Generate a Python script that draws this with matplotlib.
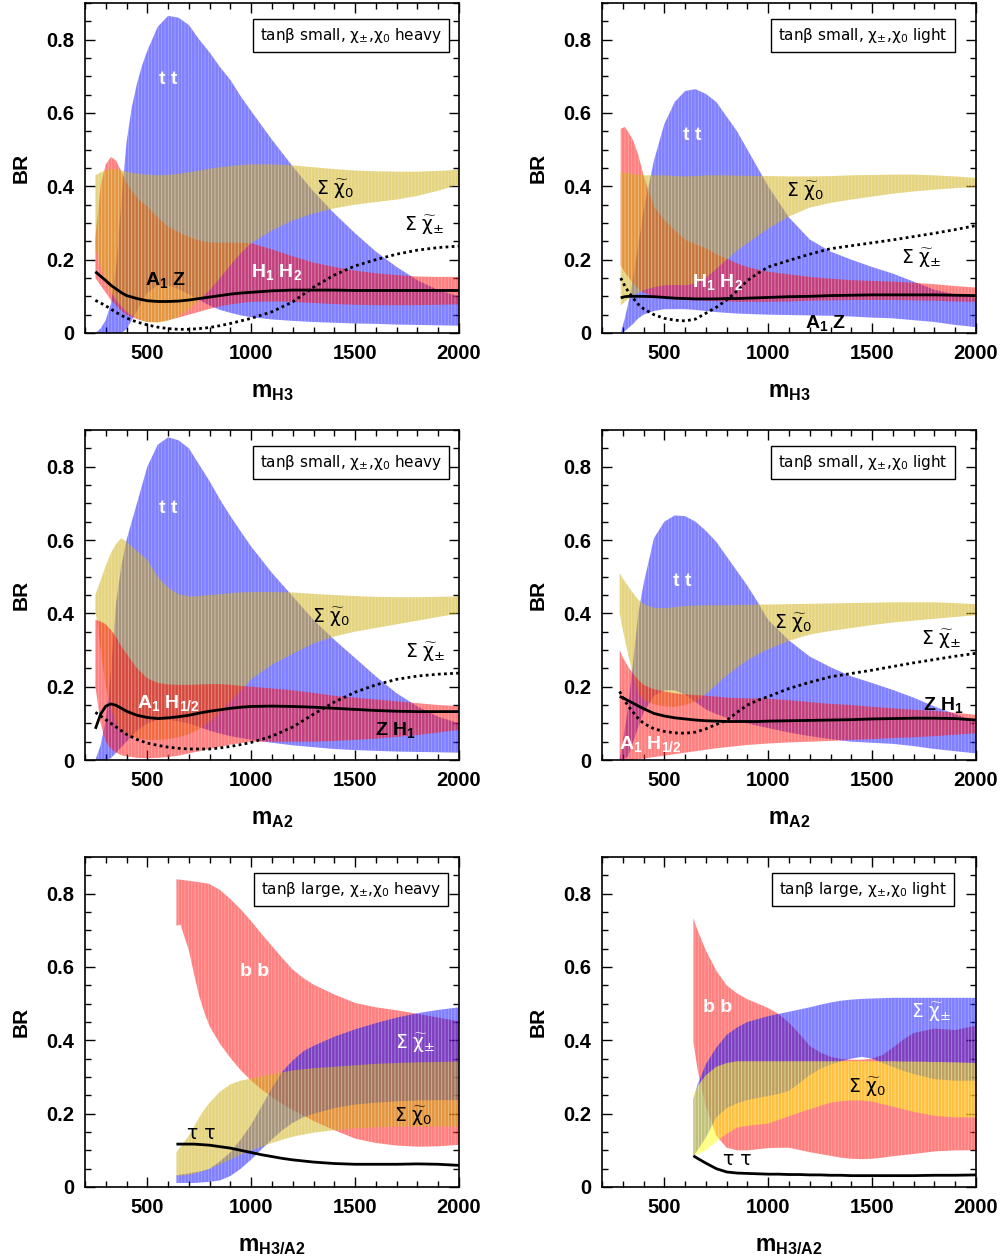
import numpy as np
import matplotlib
matplotlib.use('Agg')
import matplotlib.pyplot as plt
from matplotlib.ticker import MultipleLocator

plt.rcParams['font.family'] = ['Liberation Sans', 'DejaVu Sans']
plt.rcParams['mathtext.fontset'] = 'custom'
plt.rcParams['mathtext.rm'] = 'Liberation Sans'
plt.rcParams['mathtext.bf'] = 'Liberation Sans:bold'
plt.rcParams['mathtext.it'] = 'Liberation Sans:italic'
plt.rcParams['hatch.linewidth'] = 0.6

# ---------------- Panel 1 : m_H3, tanb small, heavy ----------------
p1_x = [250, 275, 300, 325, 350, 375, 400, 425, 450, 475, 500, 550, 600, 650, 700, 750, 800, 850, 900, 950,
        1000, 1100, 1200, 1300, 1400, 1500, 1600, 1700, 1800, 1900, 2000]
p1_tt_hi = [0.0, 0.012, 0.035, 0.08, 0.18, 0.36, 0.52, 0.615, 0.68, 0.73, 0.77, 0.835, 0.865, 0.86, 0.84, 0.80,
            0.765, 0.725, 0.69, 0.645, 0.605, 0.527, 0.454, 0.386, 0.326, 0.272, 0.222, 0.18, 0.144, 0.117, 0.10]
p1_tt_lo = [0.0, 0.0, 0.0, 0.0, 0.0, 0.0, 0.01, 0.035, 0.06, 0.088, 0.11, 0.13, 0.13, 0.12, 0.105, 0.09,
            0.075, 0.063, 0.055, 0.048, 0.043, 0.037, 0.033, 0.03, 0.028, 0.026, 0.025, 0.023, 0.022, 0.021, 0.02]
p1_hh_hi = [0.26, 0.40, 0.46, 0.48, 0.47, 0.44, 0.41, 0.388, 0.37, 0.356, 0.345, 0.315, 0.29, 0.275, 0.262,
            0.252, 0.247, 0.246, 0.246, 0.246, 0.245, 0.228, 0.209, 0.192, 0.18, 0.17, 0.163, 0.158, 0.154,
            0.153, 0.153]
p1_hh_lo = [0.15, 0.13, 0.11, 0.09, 0.075, 0.06, 0.05, 0.044, 0.038, 0.034, 0.03, 0.03, 0.035, 0.042, 0.05,
            0.058, 0.066, 0.073, 0.078, 0.082, 0.085, 0.086, 0.085, 0.082, 0.079, 0.077, 0.076, 0.076, 0.076,
            0.077, 0.078]
p1_c0_hi = [0.43, 0.438, 0.444, 0.447, 0.447, 0.444, 0.44, 0.437, 0.435, 0.433, 0.432, 0.43, 0.431, 0.434,
            0.438, 0.443, 0.448, 0.452, 0.455, 0.458, 0.46, 0.46, 0.457, 0.452, 0.447, 0.443, 0.441, 0.44, 0.44,
            0.442, 0.445]
p1_c0_lo = [0.23, 0.18, 0.14, 0.11, 0.09, 0.072, 0.058, 0.048, 0.04, 0.034, 0.03, 0.028, 0.033, 0.045, 0.065,
            0.09, 0.117, 0.15, 0.185, 0.218, 0.245, 0.28, 0.307, 0.326, 0.34, 0.35, 0.357, 0.364, 0.374, 0.388,
            0.405]
p1_a1z = [0.167, 0.155, 0.143, 0.13, 0.12, 0.11, 0.102, 0.098, 0.094, 0.091, 0.088, 0.086, 0.086, 0.087, 0.09,
          0.094, 0.098, 0.102, 0.106, 0.109, 0.111, 0.115, 0.117, 0.117, 0.117, 0.116, 0.116, 0.116, 0.116,
          0.116, 0.116]
p1_cpm = [0.089, 0.082, 0.074, 0.065, 0.056, 0.048, 0.041, 0.035, 0.03, 0.026, 0.022, 0.016, 0.012, 0.01, 0.01,
          0.012, 0.015, 0.02, 0.026, 0.033, 0.04, 0.058, 0.085, 0.125, 0.158, 0.183, 0.2, 0.215, 0.226, 0.233,
          0.237]

# ---------------- Panel 2 : m_H3, tanb small, light ----------------
p2_x = [290, 310, 330, 350, 375, 400, 450, 500, 550, 600, 650, 700, 750, 800, 850, 900, 950, 1000,
        1100, 1200, 1300, 1400, 1500, 1600, 1700, 1800, 1900, 2000]
p2_tt_hi = [0.0, 0.04, 0.09, 0.15, 0.24, 0.335, 0.47, 0.57, 0.63, 0.66, 0.665, 0.652, 0.63, 0.59, 0.55, 0.50,
            0.45, 0.40, 0.315, 0.255, 0.222, 0.20, 0.18, 0.162, 0.14, 0.118, 0.105, 0.095]
p2_tt_lo = [0.0, 0.005, 0.015, 0.025, 0.04, 0.05, 0.06, 0.065, 0.065, 0.065, 0.063, 0.06, 0.057, 0.055, 0.053,
            0.052, 0.051, 0.05, 0.049, 0.048, 0.047, 0.045, 0.042, 0.04, 0.035, 0.03, 0.022, 0.016]
p2_hh_hi = [0.557, 0.562, 0.545, 0.525, 0.485, 0.43, 0.345, 0.308, 0.28, 0.254, 0.242, 0.231, 0.215, 0.203,
            0.19, 0.18, 0.173, 0.167, 0.16, 0.153, 0.148, 0.144, 0.142, 0.14, 0.137, 0.133, 0.128, 0.124]
p2_hh_lo = [0.185, 0.165, 0.15, 0.135, 0.12, 0.11, 0.1, 0.095, 0.092, 0.09, 0.089, 0.088, 0.087, 0.086, 0.085,
            0.085, 0.085, 0.085, 0.086, 0.088, 0.089, 0.09, 0.09, 0.09, 0.089, 0.088, 0.086, 0.085]
p2_c0_hi = [0.438, 0.437, 0.435, 0.433, 0.431, 0.43, 0.43, 0.43, 0.428, 0.427, 0.428, 0.43, 0.43, 0.43, 0.429,
            0.429, 0.428, 0.428, 0.427, 0.427, 0.428, 0.43, 0.431, 0.432, 0.432, 0.43, 0.427, 0.423]
p2_c0_lo = [0.075, 0.085, 0.095, 0.103, 0.11, 0.117, 0.125, 0.13, 0.131, 0.13, 0.135, 0.15, 0.175, 0.2, 0.225,
            0.245, 0.265, 0.285, 0.318, 0.342, 0.355, 0.364, 0.372, 0.38, 0.386, 0.391, 0.395, 0.398]
p2_a1z = [0.096, 0.099, 0.1, 0.1, 0.1, 0.1, 0.099, 0.097, 0.095, 0.094, 0.093, 0.093, 0.093, 0.094, 0.094,
          0.095, 0.096, 0.097, 0.099, 0.1, 0.102, 0.103, 0.104, 0.104, 0.104, 0.104, 0.103, 0.102]
p2_cpm = [0.15, 0.128, 0.11, 0.095, 0.078, 0.066, 0.05, 0.04, 0.035, 0.033, 0.038, 0.054, 0.07, 0.09, 0.115,
          0.143, 0.163, 0.18, 0.198, 0.215, 0.23, 0.238, 0.246, 0.254, 0.263, 0.272, 0.282, 0.293]

# ---------------- Panel 3 : m_A2, tanb small, heavy ----------------
p3_x = [250, 275, 300, 325, 350, 375, 400, 450, 500, 550, 600, 650, 700, 750, 800, 850, 900, 950,
        1000, 1100, 1200, 1300, 1400, 1500, 1600, 1700, 1800, 1900, 2000]
p3_tt_hi = [0.0, 0.04, 0.11, 0.24, 0.43, 0.53, 0.60, 0.70, 0.80, 0.86, 0.88, 0.872, 0.85, 0.805, 0.76, 0.71,
            0.665, 0.623, 0.582, 0.51, 0.446, 0.382, 0.328, 0.278, 0.228, 0.182, 0.146, 0.118, 0.10]
p3_tt_lo = [0.0, 0.0, 0.0, 0.005, 0.02, 0.035, 0.05, 0.08, 0.1, 0.11, 0.11, 0.105, 0.1, 0.09, 0.08, 0.072,
            0.065, 0.06, 0.055, 0.047, 0.04, 0.035, 0.03, 0.027, 0.025, 0.023, 0.022, 0.021, 0.02]
p3_ah_hi = [0.382, 0.378, 0.37, 0.355, 0.335, 0.31, 0.29, 0.25, 0.223, 0.21, 0.206, 0.205, 0.205, 0.206, 0.207,
            0.207, 0.205, 0.202, 0.2, 0.195, 0.19, 0.183, 0.175, 0.17, 0.165, 0.16, 0.155, 0.15, 0.147]
p3_ah_lo = [0.2, 0.1, 0.05, 0.03, 0.02, 0.013, 0.01, 0.006, 0.005, 0.006, 0.008, 0.012, 0.018, 0.024, 0.03,
            0.036, 0.042, 0.046, 0.05, 0.05, 0.05, 0.05, 0.052, 0.055, 0.058, 0.063, 0.068, 0.075, 0.082]
p3_c0_hi = [0.45, 0.49, 0.53, 0.565, 0.59, 0.605, 0.595, 0.57, 0.546, 0.50, 0.47, 0.452, 0.446, 0.447, 0.45,
            0.452, 0.455, 0.457, 0.458, 0.458, 0.457, 0.453, 0.45, 0.447, 0.445, 0.444, 0.444, 0.445, 0.446]
p3_c0_lo = [0.41, 0.30, 0.20, 0.14, 0.10, 0.08, 0.07, 0.06, 0.055, 0.055, 0.057, 0.062, 0.07, 0.085, 0.105,
            0.13, 0.16, 0.19, 0.22, 0.26, 0.29, 0.318, 0.337, 0.35, 0.36, 0.37, 0.38, 0.39, 0.40]
p3_zh1 = [0.085, 0.125, 0.147, 0.153, 0.149, 0.141, 0.133, 0.122, 0.116, 0.113, 0.115, 0.118, 0.122, 0.128, 0.133,
          0.137, 0.141, 0.144, 0.146, 0.147, 0.146, 0.144, 0.141, 0.138, 0.135, 0.133, 0.132, 0.132, 0.132]
p3_cpm = [0.13, 0.12, 0.11, 0.1, 0.09, 0.08, 0.07, 0.056, 0.046, 0.04, 0.035, 0.032, 0.03, 0.03, 0.03,
          0.033, 0.037, 0.042, 0.048, 0.065, 0.09, 0.125, 0.158, 0.185, 0.205, 0.22, 0.229, 0.234, 0.237]

# ---------------- Panel 4 : m_A2, tanb small, light ----------------
p4_x = [285, 300, 325, 350, 375, 400, 450, 500, 550, 600, 650, 700, 750, 800, 850, 900, 950, 1000,
        1100, 1200, 1300, 1400, 1500, 1600, 1700, 1800, 1900, 2000]
p4_tt_hi = [0.0, 0.05, 0.14, 0.27, 0.40, 0.48, 0.605, 0.65, 0.667, 0.665, 0.65, 0.625, 0.595, 0.555, 0.515,
            0.475, 0.43, 0.382, 0.326, 0.282, 0.253, 0.228, 0.21, 0.191, 0.17, 0.146, 0.125, 0.105]
p4_tt_lo = [0.0, 0.0, 0.01, 0.05, 0.09, 0.13, 0.175, 0.19, 0.19, 0.178, 0.158, 0.138, 0.125, 0.115, 0.107,
            0.1, 0.093, 0.087, 0.075, 0.065, 0.057, 0.05, 0.047, 0.044, 0.038, 0.03, 0.024, 0.018]
p4_ah_hi = [0.30, 0.28, 0.255, 0.235, 0.218, 0.205, 0.193, 0.187, 0.182, 0.179, 0.177, 0.175, 0.173, 0.17,
            0.169, 0.168, 0.168, 0.167, 0.163, 0.158, 0.153, 0.15, 0.145, 0.141, 0.137, 0.134, 0.129, 0.123]
p4_ah_lo = [0.0, 0.0, 0.0, 0.0, 0.002, 0.004, 0.008, 0.012, 0.016, 0.02, 0.024, 0.028, 0.032, 0.035, 0.038,
            0.041, 0.043, 0.045, 0.048, 0.05, 0.052, 0.055, 0.057, 0.06, 0.062, 0.065, 0.069, 0.073]
p4_c0_hi = [0.51, 0.495, 0.475, 0.455, 0.437, 0.425, 0.415, 0.414, 0.417, 0.42, 0.421, 0.422, 0.422, 0.422,
            0.423, 0.423, 0.424, 0.424, 0.425, 0.426, 0.427, 0.428, 0.429, 0.43, 0.43, 0.43, 0.428, 0.425]
p4_c0_lo = [0.40, 0.355, 0.29, 0.23, 0.185, 0.165, 0.152, 0.146, 0.145, 0.15, 0.16, 0.18, 0.205, 0.23, 0.252,
            0.272, 0.288, 0.302, 0.325, 0.342, 0.352, 0.36, 0.368, 0.375, 0.38, 0.385, 0.39, 0.395]
p4_zh1 = [0.173, 0.17, 0.162, 0.155, 0.147, 0.14, 0.127, 0.12, 0.115, 0.112, 0.109, 0.107, 0.106, 0.105, 0.105,
          0.105, 0.105, 0.106, 0.107, 0.108, 0.109, 0.11, 0.112, 0.113, 0.114, 0.114, 0.113, 0.109]
p4_cpm = [0.187, 0.17, 0.148, 0.13, 0.113, 0.1, 0.085, 0.078, 0.074, 0.073, 0.076, 0.085, 0.097, 0.108, 0.13,
          0.15, 0.163, 0.173, 0.195, 0.212, 0.227, 0.236, 0.245, 0.255, 0.265, 0.274, 0.283, 0.291]

# ---------------- Panel 5 : m_H3/A2, tanb large, heavy ----------------
p5_x = [640, 660, 700, 725, 750, 775, 800, 850, 900, 950, 1000, 1050, 1100, 1150, 1200, 1250, 1300, 1400, 1500,
        1600, 1700, 1800, 1900, 2000]
p5_bb_hi = [0.839, 0.838, 0.835, 0.833, 0.831, 0.829, 0.826, 0.81, 0.785, 0.757, 0.725, 0.69, 0.657, 0.624,
            0.593, 0.57, 0.552, 0.525, 0.502, 0.49, 0.482, 0.472, 0.462, 0.452]
p5_bb_lo = [0.713, 0.715, 0.645, 0.58, 0.52, 0.475, 0.438, 0.39, 0.352, 0.318, 0.29, 0.266, 0.245, 0.226,
            0.21, 0.195, 0.18, 0.155, 0.132, 0.12, 0.113, 0.11, 0.111, 0.115]
p5_cp_hi = [0.032, 0.034, 0.037, 0.04, 0.042, 0.046, 0.05, 0.07, 0.095, 0.13, 0.17, 0.22, 0.27, 0.315, 0.345,
            0.37, 0.385, 0.41, 0.43, 0.447, 0.462, 0.474, 0.483, 0.49]
p5_cp_lo = [0.011, 0.011, 0.011, 0.011, 0.012, 0.013, 0.014, 0.018, 0.03, 0.05, 0.075, 0.103, 0.13, 0.155,
            0.175, 0.19, 0.2, 0.215, 0.225, 0.23, 0.234, 0.236, 0.237, 0.237]
p5_c0_hi = [0.095, 0.11, 0.14, 0.165, 0.19, 0.212, 0.23, 0.26, 0.28, 0.29, 0.296, 0.302, 0.308, 0.313, 0.318,
            0.321, 0.324, 0.328, 0.332, 0.336, 0.338, 0.34, 0.341, 0.342]
p5_c0_lo = [0.03, 0.031, 0.033, 0.036, 0.04, 0.045, 0.05, 0.062, 0.075, 0.088, 0.1, 0.11, 0.12, 0.129, 0.137,
            0.143, 0.148, 0.155, 0.16, 0.163, 0.165, 0.165, 0.165, 0.165]
p5_tau = [0.117, 0.117, 0.117, 0.117, 0.116, 0.115, 0.114, 0.11, 0.106, 0.1, 0.094, 0.088, 0.083, 0.078, 0.074,
          0.071, 0.068, 0.064, 0.062, 0.062, 0.062, 0.063, 0.062, 0.059]

# ---------------- Panel 6 : m_H3/A2, tanb large, light ----------------
p6_x = [640, 660, 700, 750, 800, 850, 900, 950, 1000, 1050, 1100, 1150, 1200, 1250, 1300, 1350, 1400, 1450, 1500,
        1550, 1600, 1650, 1700, 1800, 1900, 2000]
p6_bb_hi = [0.733, 0.70, 0.645, 0.59, 0.55, 0.528, 0.512, 0.5, 0.488, 0.472, 0.448, 0.418, 0.385, 0.367,
            0.355, 0.349, 0.347, 0.347, 0.35, 0.36, 0.38, 0.402, 0.42, 0.432, 0.428, 0.44]
p6_bb_lo = [0.395, 0.32, 0.22, 0.14, 0.107, 0.1, 0.1, 0.103, 0.106, 0.107, 0.107, 0.101, 0.095, 0.09, 0.085,
            0.08, 0.077, 0.076, 0.077, 0.08, 0.084, 0.087, 0.09, 0.097, 0.1, 0.1]
p6_cp_hi = [0.24, 0.28, 0.335, 0.38, 0.415, 0.435, 0.45, 0.458, 0.466, 0.472, 0.478, 0.484, 0.49, 0.497, 0.503,
            0.508, 0.511, 0.513, 0.514, 0.515, 0.516, 0.516, 0.516, 0.516, 0.516, 0.516]
p6_cp_lo = [0.085, 0.1, 0.135, 0.19, 0.215, 0.228, 0.237, 0.243, 0.248, 0.254, 0.262, 0.283, 0.305, 0.322,
            0.334, 0.343, 0.35, 0.355, 0.35, 0.338, 0.327, 0.317, 0.308, 0.294, 0.29, 0.29]
p6_c0_hi = [0.25, 0.275, 0.305, 0.328, 0.338, 0.343, 0.343, 0.343, 0.343, 0.343, 0.343, 0.343, 0.343, 0.343,
            0.343, 0.343, 0.343, 0.343, 0.343, 0.343, 0.343, 0.342, 0.342, 0.341, 0.34, 0.338]
p6_c0_lo = [0.085, 0.09, 0.1, 0.124, 0.145, 0.162, 0.167, 0.17, 0.173, 0.183, 0.193, 0.203, 0.212, 0.221,
            0.23, 0.234, 0.236, 0.236, 0.233, 0.226, 0.219, 0.212, 0.205, 0.194, 0.19, 0.19]
p6_tau = [0.085, 0.078, 0.065, 0.05, 0.041, 0.038, 0.037, 0.036, 0.035, 0.035, 0.034, 0.034, 0.033, 0.033,
          0.032, 0.032, 0.031, 0.031, 0.031, 0.031, 0.031, 0.031, 0.031, 0.032, 0.032, 0.033]

BLUE = (0.0, 0.0, 1.0, 0.5)
RED = (1.0, 0.0, 0.0, 0.5)
GOLD = (205 / 255, 170 / 255, 0.0, 0.5)
YEL = (1.0, 1.0, 0.0, 0.5)
STRIPE = (1, 1, 1, 0.3)

titles = ['tanβ small, χ$_{\\pm}$,χ$_0$ heavy', 'tanβ small, χ$_{\\pm}$,χ$_0$ light',
          'tanβ small, χ$_{\\pm}$,χ$_0$ heavy', 'tanβ small, χ$_{\\pm}$,χ$_0$ light',
          'tanβ large, χ$_{\\pm}$,χ$_0$ heavy', 'tanβ large, χ$_{\\pm}$,χ$_0$ light']
xlabels = [r'$\mathbf{m_{H3}}$', r'$\mathbf{m_{H3}}$', r'$\mathbf{m_{A2}}$', r'$\mathbf{m_{A2}}$',
           r'$\mathbf{m_{H3/A2}}$', r'$\mathbf{m_{H3/A2}}$']

CHI0 = r'$\Sigma\ \widetilde{\mathrm{\chi}}_0$'
CHIPM = r'$\Sigma\ \widetilde{\mathrm{\chi}}_{\pm}$'

panels = [
    dict(x=p1_x, bands=[(p1_tt_lo, p1_tt_hi, BLUE), (p1_hh_lo, p1_hh_hi, RED), (p1_c0_lo, p1_c0_hi, GOLD)],
         solid=p1_a1z, dotted=p1_cpm,
         labels=[(600, 0.69, 't t', 'w', 'bold'), (1405, 0.395, CHI0, 'k', 'chi'), (1835, 0.295, CHIPM, 'k', 'chi'),
                 (590, 0.145, r'$\mathbf{A_1\ Z}$', 'k', 'm'), (1120, 0.165, r'$\mathbf{H_1\ H_2}$', 'w', 'm')]),
    dict(x=p2_x, bands=[(p2_tt_lo, p2_tt_hi, BLUE), (p2_hh_lo, p2_hh_hi, RED), (p2_c0_lo, p2_c0_hi, GOLD)],
         solid=p2_a1z, dotted=p2_cpm,
         labels=[(634, 0.54, 't t', 'w', 'bold'), (1177, 0.39, CHI0, 'k', 'chi'), (1736, 0.205, CHIPM, 'k', 'chi'),
                 (756, 0.14, r'$\mathbf{H_1\ H_2}$', 'w', 'm'), (1274, 0.028, r'$\mathbf{A_1\ Z}$', 'k', 'm')]),
    dict(x=p3_x, bands=[(p3_tt_lo, p3_tt_hi, BLUE), (p3_c0_lo, p3_c0_hi, GOLD), (p3_ah_lo, p3_ah_hi, RED)],
         solid=p3_zh1, dotted=p3_cpm,
         labels=[(600, 0.687, 't t', 'w', 'bold'), (1385, 0.39, CHI0, 'k', 'chi'), (1837, 0.295, CHIPM, 'k', 'chi'),
                 (600, 0.155, r'$\mathbf{A_1\ H_{1/2}}$', 'w', 'm'), (1692, 0.082, r'$\mathbf{Z\ H_1}$', 'k', 'm')]),
    dict(x=p4_x, bands=[(p4_tt_lo, p4_tt_hi, BLUE), (p4_c0_lo, p4_c0_hi, GOLD), (p4_ah_lo, p4_ah_hi, RED)],
         solid=p4_zh1, dotted=p4_cpm,
         labels=[(586, 0.487, 't t', 'w', 'bold'), (1120, 0.375, CHI0, 'k', 'chi'), (1833, 0.33, CHIPM, 'k', 'chi'),
                 (432, 0.045, r'$\mathbf{A_1\ H_{1/2}}$', 'w', 'm'), (1841, 0.15, r'$\mathbf{Z\ H_1}$', 'k', 'm')]),
    dict(x=p5_x, bands=[(p5_bb_lo, p5_bb_hi, RED), (p5_cp_lo, p5_cp_hi, BLUE), (p5_c0_lo, p5_c0_hi, GOLD)],
         solid=p5_tau, dotted=None,
         labels=[(1017, 0.588, 'b b', 'w', 'bold'), (1788, 0.395, CHIPM, 'w', 'chi'), (1780, 0.196, CHI0, 'k', 'chi'),
                 (760, 0.146, 'τ τ', 'k', 'normal')]),
    dict(x=p6_x, bands=[(p6_bb_lo, p6_bb_hi, RED), (p6_cp_lo, p6_cp_hi, BLUE), (p6_c0_lo, p6_c0_hi, YEL)],
         solid=p6_tau, dotted=None,
         labels=[(756, 0.49, 'b b', 'w', 'bold'), (1785, 0.478, CHIPM, 'w', 'chi'), (1477, 0.275, CHI0, 'k', 'chi'),
                 (853, 0.076, 'τ τ', 'k', 'normal')]),
]

fig = plt.figure(figsize=(10.06, 12.58), dpi=100)
W, H = 1006.0, 1258.0
lefts = [85, 602]
tops = [3, 430, 857]
aw, ah = 374, 330

for i, p in enumerate(panels):
    r, c = divmod(i, 2)
    ax = fig.add_axes([lefts[c] / W, 1 - (tops[r] + ah) / H, aw / W, ah / H])
    x = np.array(p['x'], dtype=float)
    for lo, hi, col in p['bands']:
        ax.fill_between(x, lo, hi, facecolor=col, edgecolor=STRIPE, hatch='|||||', linewidth=0, zorder=2)
    ax.plot(x, p['solid'], color='k', lw=2.0, zorder=4, solid_capstyle='butt')
    if p['dotted'] is not None:
        ax.plot(x, p['dotted'], color='k', lw=2.0, linestyle=(0, (1.0, 1.2)), zorder=4)
    for lx, ly, txt, colr, kind in p['labels']:
        if kind == 'chi':
            ax.text(lx, ly, txt, color=colr, fontsize=13.5, ha='center', va='center',
                    math_fontfamily='dejavusans', zorder=5)
        elif kind == 'bold':
            ax.text(lx, ly, txt, color=colr, fontsize=14, fontweight='bold', ha='center', va='center', zorder=5)
        elif kind == 'm':
            ax.text(lx, ly, txt, color=colr, fontsize=14, ha='center', va='center', zorder=5)
        else:
            ax.text(lx, ly, txt, color=colr, fontsize=13.5, ha='center', va='center',
                    family='DejaVu Sans', zorder=5)
    bx = 0.712 if c == 0 else 0.698
    ax.text(bx, 0.902, titles[i], transform=ax.transAxes, ha='center', va='center', fontsize=11,
            family='DejaVu Sans', math_fontfamily='dejavusans', zorder=6,
            bbox=dict(boxstyle='square,pad=0.45', facecolor='white', edgecolor='black', linewidth=1.0))
    ax.set_xlim(200, 2000)
    ax.set_ylim(0, 0.9)
    ax.xaxis.set_minor_locator(MultipleLocator(100))
    ax.yaxis.set_minor_locator(MultipleLocator(0.05))
    ax.set_xticks([500, 1000, 1500, 2000])
    ax.set_xticklabels(['500', '1000', '1500', '2000'])
    ax.set_yticks([0, 0.2, 0.4, 0.6, 0.8])
    ax.set_yticklabels(['0', '0.2', '0.4', '0.6', '0.8'])
    ax.tick_params(which='both', direction='in', top=True, right=True)
    ax.tick_params(which='major', length=7, width=1.0, labelsize=14.5, pad=8)
    ax.tick_params(which='minor', length=4, width=1.0)
    for lab in ax.get_xticklabels() + ax.get_yticklabels():
        lab.set_fontweight('bold')
    for s in ax.spines.values():
        s.set_linewidth(1.2)
    ax.set_ylabel('BR', fontsize=15, fontweight='bold', labelpad=11)
    ax.set_xlabel(xlabels[i], fontsize=16.5, labelpad=12)

fig.savefig('out.png', dpi=100)
